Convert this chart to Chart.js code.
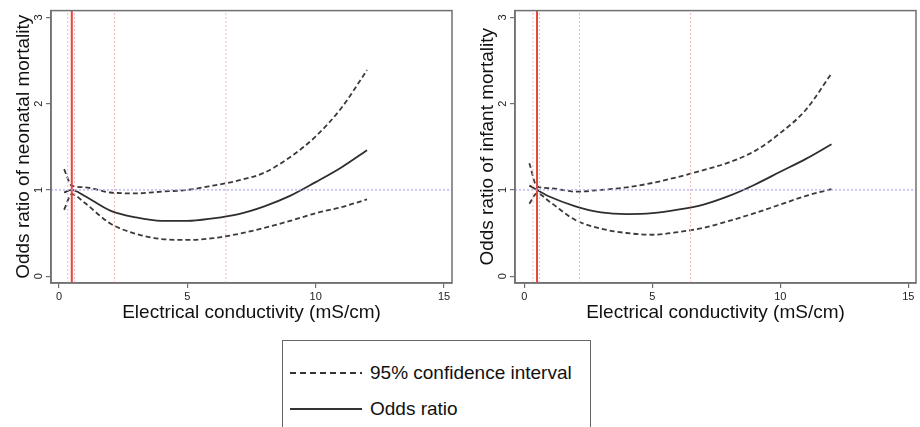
<!DOCTYPE html>
<html>
<head>
<meta charset="utf-8">
<script src="https://cdn.jsdelivr.net/npm/chart.js@4.4.1/dist/chart.umd.min.js"></script>
<style>
  html, body { margin: 0; padding: 0; background: #fff; overflow: hidden; }
  body { width: 920px; height: 427px; position: relative; font-family: "Liberation Sans", Arial, sans-serif; }
  canvas { position: absolute; top: 0; }
  #neonatal { left: 0; }
  #infant { left: 464px; }
  .legend-box {
    position: absolute; left: 282px; top: 340px; width: 309px; height: 120px;
    border: 1px solid #666; box-sizing: border-box;
  }
  .legend-row { position: absolute; left: 7px; height: 22px; display: flex; align-items: center; }
  .sample { width: 72px; height: 2px; margin-right: 8px; }
  .sample.dashed { background: repeating-linear-gradient(90deg, #333 0 6px, transparent 6px 10px); }
  .sample.solid { background: #333; }
  .legend-row span { font-size: 19px; color: #111; }
</style>
</head>
<body>
<canvas id="neonatal" width="460" height="330"></canvas>
<canvas id="infant" width="460" height="330"></canvas>
<div class="legend-box">
  <div class="legend-row" style="top: 21px;"><div class="sample dashed"></div><span>95% confidence interval</span></div>
  <div class="legend-row" style="top: 57px;"><div class="sample solid"></div><span>Odds ratio</span></div>
</div>
<script>
const ecValues = [0.2, 0.5, 1, 2, 3, 4, 5, 6, 7, 8, 9, 10, 11, 12];

// neonatal mortality
const neonatalOR    = [0.97, 1.00, 0.93, 0.76, 0.68, 0.64, 0.64, 0.67, 0.72, 0.81, 0.93, 1.09, 1.26, 1.46];
const neonatalUpper = [1.24, 1.05, 1.03, 0.97, 0.96, 0.98, 1.00, 1.05, 1.11, 1.20, 1.38, 1.62, 1.95, 2.39];
const neonatalLower = [0.77, 0.95, 0.85, 0.61, 0.49, 0.43, 0.42, 0.44, 0.49, 0.56, 0.64, 0.73, 0.80, 0.89];

// infant mortality
const infantOR    = [1.05, 1.00, 0.92, 0.81, 0.74, 0.72, 0.73, 0.77, 0.83, 0.93, 1.06, 1.21, 1.36, 1.53];
const infantUpper = [1.31, 1.04, 1.02, 0.98, 1.00, 1.03, 1.08, 1.15, 1.23, 1.32, 1.45, 1.66, 1.93, 2.35];
const infantLower = [0.84, 0.96, 0.86, 0.65, 0.55, 0.50, 0.48, 0.51, 0.56, 0.64, 0.73, 0.83, 0.93, 1.01];

// reference value (solid red), cut points (dotted pink), OR = 1 (dotted blue)
const referenceEC = 0.5;
const cutPoints = [0.34, 0.6, 2.16, 6.5];
const nullOR = 1;

const xTicks = [0, 5, 10, 15];
const yTicks = [0, 1, 2, 3];

const Y_MIN = -0.08, Y_MAX = 3.08;
const FONT = '"Liberation Sans", Arial, sans-serif';

// draws the grey box round the plot region
const frame = {
  id: 'frame',
  afterDraw(chart) {
    const { ctx, chartArea: a } = chart;
    ctx.save();
    ctx.strokeStyle = '#707070';
    ctx.lineWidth = 1.5;
    ctx.strokeRect(a.left, a.top, a.right - a.left, a.bottom - a.top);
    ctx.restore();
  }
};

function refLine(points, color, dash, width) {
  return {
    data: points, borderColor: color, borderDash: dash, borderWidth: width,
    pointRadius: 0, tension: 0, fill: false
  };
}

function curve(values, dash) {
  return {
    data: ecValues.map((x, i) => ({ x, y: values[i] })),
    borderColor: dash.length ? '#3a3a3a' : '#2e2e2e',
    borderDash: dash, borderWidth: 1.8, pointRadius: 0,
    cubicInterpolationMode: 'monotone', fill: false
  };
}

function makeChart(id, yTitle, orValues, upper, lower, xMin, xMax) {
  const datasets = [];
  cutPoints.forEach(c => datasets.push(refLine([{ x: c, y: Y_MIN }, { x: c, y: Y_MAX }], '#f5b5b5', [2, 2], 1)));
  datasets.push(refLine([{ x: xMin, y: nullOR }, { x: xMax, y: nullOR }], '#a8a8f5', [2, 2], 1.2));
  datasets.push(refLine([{ x: referenceEC, y: Y_MIN }, { x: referenceEC, y: Y_MAX }], '#e8443c', [], 2));
  datasets.push(curve(upper, [5, 3]));
  datasets.push(curve(lower, [5, 3]));
  datasets.push(curve(orValues, []));

  new Chart(document.getElementById(id), {
    type: 'line',
    data: { datasets },
    options: {
      responsive: false,
      animation: false,
      layout: { padding: { top: 10, right: 8, left: 0, bottom: 0 } },
      plugins: { legend: { display: false }, tooltip: { enabled: false } },
      scales: {
        x: {
          type: 'linear', min: xMin, max: xMax,
          afterBuildTicks: s => { s.ticks = xTicks.map(v => ({ value: v })); },
          afterFit: s => { s.height = 47; },
          grid: { drawOnChartArea: false, tickLength: 5, color: '#707070', lineWidth: 1.2 },
          border: { display: true, color: '#707070', width: 1.5 },
          ticks: { maxRotation: 0, padding: 2, color: '#222', font: { family: FONT, size: 11 } },
          title: {
            display: true, text: 'Electrical conductivity (mS/cm)', color: '#111',
            font: { family: FONT, size: 19 }, padding: { top: 0, bottom: 6 }
          }
        },
        y: {
          type: 'linear', min: Y_MIN, max: Y_MAX,
          afterBuildTicks: s => { s.ticks = yTicks.map(v => ({ value: v })); },
          afterFit: s => { s.width = 51; },
          grid: { drawOnChartArea: false, tickLength: 5, color: '#707070', lineWidth: 1.2 },
          border: { display: true, color: '#707070', width: 1.5 },
          ticks: {
            minRotation: 90, maxRotation: 90, crossAlign: 'center', padding: 4,
            color: '#222', font: { family: FONT, size: 11 }
          },
          title: {
            display: true, text: yTitle, color: '#111',
            font: { family: FONT, size: 19 }, padding: { top: 12, bottom: 0 }
          }
        }
      }
    },
    plugins: [frame]
  });
}

makeChart('neonatal', 'Odds ratio of neonatal mortality', neonatalOR, neonatalUpper, neonatalLower, -0.31, 15.31);
makeChart('infant', 'Odds ratio of infant mortality', infantOR, infantUpper, infantLower, -0.36, 15.3);
</script>
</body>
</html>
